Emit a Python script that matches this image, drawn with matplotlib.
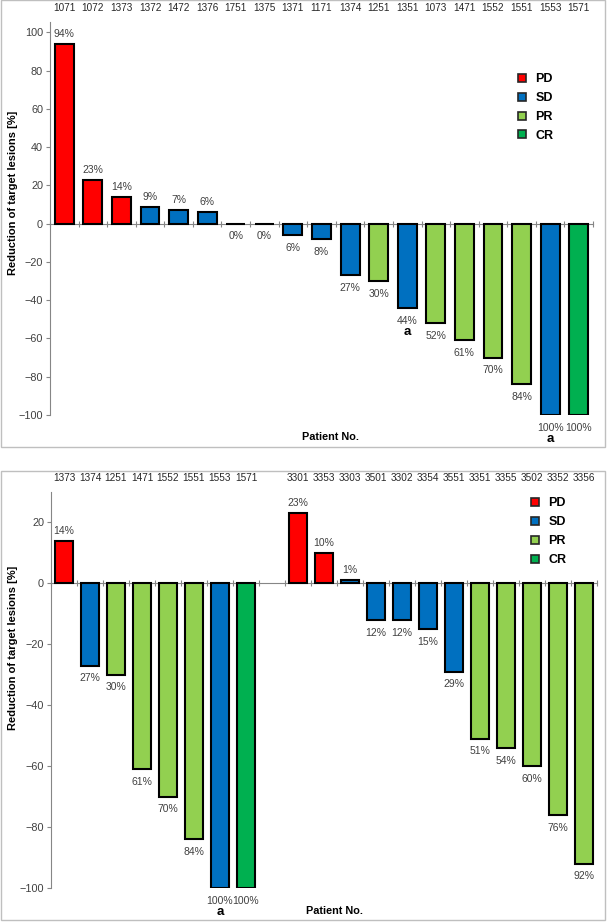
import matplotlib
matplotlib.use("Agg")
import matplotlib.pyplot as plt
from matplotlib.patches import Rectangle
from matplotlib.lines import Line2D

plt.rcParams['font.family'] = ['Liberation Sans', 'DejaVu Sans']

# ---------------- data ----------------
top_patients = ["1071", "1072", "1373", "1372", "1472", "1376", "1751", "1375", "1371",
                "1171", "1374", "1251", "1351", "1073", "1471", "1552", "1551", "1553", "1571"]
top_values = [94, 23, 14, 9, 7, 6, 0, 0, -6, -8, -27, -30, -44, -52, -61, -70, -84, -100, -100]
top_resp = ["PD", "PD", "PD", "SD", "SD", "SD", "SD", "SD", "SD", "SD", "SD", "PR", "SD",
            "PR", "PR", "PR", "PR", "SD", "CR"]
top_marks = ["1351", "1553"]

bot_patients = ["1373", "1374", "1251", "1471", "1552", "1551", "1553", "1571", "",
                "3301", "3353", "3303", "3501", "3302", "3354", "3551", "3351", "3355",
                "3502", "3352", "3356"]
bot_values = [14, -27, -30, -61, -70, -84, -100, -100, None,
              23, 10, 1, -12, -12, -15, -29, -51, -54, -60, -76, -92]
bot_resp = ["PD", "SD", "PR", "PR", "PR", "PR", "SD", "CR", None,
            "PD", "PD", "SD", "SD", "SD", "SD", "SD", "PR", "PR", "PR", "PR", "PR"]
bot_marks = ["1553"]

resp_order = ["PD", "SD", "PR", "CR"]
colors = {"PD": "#FF0000", "SD": "#0070C0", "PR": "#92D050", "CR": "#00B050"}

W, H = 610, 922
fig = plt.figure(figsize=(W / 100, H / 100), dpi=100)

# panel borders
for (y0, y1) in [(0, 447), (471, 920)]:
    fig.patches.append(Rectangle((1 / W, 1 - y1 / H), 604 / W, (y1 - y0) / H,
                                 transform=fig.transFigure, fill=False,
                                 edgecolor="#BFBFBF", linewidth=1.0))


def panel(rect, patients, values, resp, marks, ylim, yticks, legend_xy, ylabel_y, xlabel_xy,
          width, label_fs):
    ax = fig.add_axes(rect)
    n = len(patients)
    xs = [i for i, v in enumerate(values) if v is not None]
    vs = [values[i] for i in xs]
    cs = [colors[resp[i]] for i in xs]
    ax.bar(xs, vs, width=width, color=cs, edgecolor="black", linewidth=1.5, zorder=3)
    ax.set_xlim(-0.5, n - 0.5)
    ax.set_ylim(*ylim)
    ax.set_yticks(yticks)
    ax.tick_params(axis='y', labelsize=7.8, colors="#404040", length=3, width=0.8, pad=2)
    ax.tick_params(axis='y', color="#868686")
    for s in ["top", "right"]:
        ax.spines[s].set_visible(False)
    ax.spines['left'].set_color("#868686")
    ax.spines['bottom'].set_color("#868686")
    ax.spines['bottom'].set_position(('data', 0))
    ax.spines['bottom'].set_zorder(2)
    ax.set_xticks([])
    ax.set_xticks([i - 0.5 for i in range(n + 1)], minor=True)
    ax.tick_params(axis='x', which='minor', direction='inout', length=5, width=0.8,
                   color="#868686")
    # patient numbers on top
    sec = ax.secondary_xaxis('top')
    sec.set_xticks(range(n))
    sec.set_xticklabels(patients)
    sec.tick_params(length=0, labelsize=7.2, colors="#262626", pad=6.5)
    sec.spines['top'].set_visible(False)
    # value labels
    for i, v in zip(xs, vs):
        if v > 0:
            ax.annotate(f"{abs(v)}%", (i, v), xytext=(0, 3.5), textcoords='offset points',
                        ha='center', va='bottom', fontsize=label_fs, color="#404040")
        else:
            ax.annotate(f"{abs(v)}%", (i, v), xytext=(0, -5.5), textcoords='offset points',
                        ha='center', va='top', fontsize=label_fs, color="#404040")
            if patients[i] in marks:
                ax.annotate("a", (i, v), xytext=(0, -13), textcoords='offset points',
                            ha='center', va='top', fontsize=9.5, fontweight='bold',
                            color="black")
    # legend
    handles = [Line2D([], [], linestyle='none', marker='s', markersize=5.5,
                      markerfacecolor=colors[r], markeredgecolor="#262626",
                      markeredgewidth=1.2) for r in resp_order]
    ax.legend(handles, resp_order, loc='upper left', bbox_to_anchor=legend_xy,
              bbox_transform=fig.transFigure, frameon=False,
              prop={'weight': 'bold', 'size': 9}, handletextpad=0.6,
              labelspacing=0.55, handlelength=1.0, borderpad=0)
    fig.text(13 / W, 1 - ylabel_y / H, "Reduction of target lesions [%]", rotation=90,
             ha='center', va='center', fontsize=8, fontweight='bold')
    fig.text(xlabel_xy[0] / W, 1 - xlabel_xy[1] / H, "Patient No.", ha='left',
             va='center', fontsize=7.8, fontweight='bold')
    return ax


panel([50 / W, 1 - 415 / H, 543 / W, (415 - 22.5) / H], top_patients, top_values, top_resp,
      top_marks, (-100, 105.2), list(range(-100, 101, 20)), (509 / W, 1 - 67 / H), 193,
      (302, 437), 0.66, 7.5)

panel([51 / W, 1 - 888 / H, 546 / W, (888 - 492) / H], bot_patients, bot_values, bot_resp,
      bot_marks, (-100, 30), list(range(-100, 21, 20)), (522 / W, 1 - 491 / H), 648,
      (306, 911), 0.66, 7.5)

fig.savefig("out.png", dpi=100)
